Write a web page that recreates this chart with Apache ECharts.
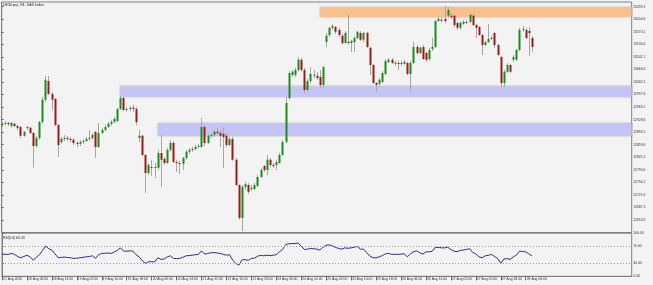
<!DOCTYPE html>
<html><head><meta charset="utf-8">
<script src="https://cdn.jsdelivr.net/npm/echarts@6/dist/echarts.min.js"></script>
<style>html,body{margin:0;padding:0;background:#f3f3f3}#c{width:653px;height:285px}</style>
</head><body><div id="c"></div><script>
const chartTitle = 'DE30.pro, H1: DAX Index';
const rsiTitle = 'RSI(14) 60.24';
const xLabels = ['17 Aug 2020','18 Aug 06:00','18 Aug 14:00','19 Aug 02:00','19 Aug 10:00','19 Aug 18:00','20 Aug 06:00','20 Aug 14:00','21 Aug 02:00','21 Aug 10:00','21 Aug 18:00','24 Aug 06:00','24 Aug 14:00','25 Aug 02:00','25 Aug 10:00','25 Aug 18:00','26 Aug 06:00','26 Aug 14:00','27 Aug 02:00','27 Aug 10:00','27 Aug 18:00','28 Aug 06:00'];
const priceTicks = {min: 12618.1, max: 13252, step: 34.5};
const rsiTicks = [0, 30, 70, 100];
const rsiLevels = [30, 70];
const slotCount = 203;

const openV = [12914,12917,12919,12911,12917,12911,12908,12884,12906,12906,
12892,12856,12878,12922,12983,13035,12999,12985,12914,12867,
12875,12878,12875,12873,12864,12862,12867,12870,12875,12878,
12895,12853,12892,12900,12908,12917,12922,12925,12958,12988,
12955,12958,12961,12958,12878,12884,12831,12782,12798,12796,
12796,12837,12820,12809,12845,12864,12812,12809,12807,12823,
12840,12845,12848,12853,12853,12908,12864,12884,12886,12895,
12892,12889,12884,12859,12875,12818,12749,12658,12743,12749,
12738,12738,12746,12771,12801,12790,12818,12804,12804,12809,
12831,12867,12988,13051,13051,13065,13093,13065,13010,13035,
13051,13049,13046,13024,13142,13161,13181,13183,13175,13159,
13139,13142,13139,13142,13153,13167,13148,13167,13126,13079,
13029,13027,13032,13054,13087,13093,13084,13084,13082,13082,
13084,13054,13084,13128,13112,13128,13112,13095,13123,13128,
13200,13203,13205,13214,13214,13214,13194,13181,13192,13197,
13197,13214,13189,13183,13161,13134,13142,13150,13167,13134,
13101,13029,13060,13079,13093,13093,13120,13175,13175,13172,13153];
const closeV = [12917,12919,12917,12919,12911,12906,12884,12895,12908,12892,
12856,12878,12922,12983,13038,12999,12983,12914,12859,12875,
12878,12875,12873,12864,12862,12867,12870,12875,12878,12886,
12853,12892,12900,12908,12917,12922,12930,12958,12988,12955,
12958,12961,12958,12922,12884,12831,12782,12804,12796,12798,
12837,12818,12809,12845,12864,12812,12809,12807,12823,12840,
12845,12848,12853,12856,12908,12864,12884,12886,12895,12892,
12884,12881,12859,12875,12818,12749,12658,12743,12751,12730,
12741,12749,12771,12790,12790,12818,12804,12801,12812,12831,
12867,12974,13057,13060,13065,13093,13065,13010,13035,13054,
13052,13043,13024,13073,13159,13181,13186,13170,13161,13139,
13167,13139,13145,13153,13170,13148,13167,13128,13079,13029,
13024,13038,13057,13090,13093,13084,13085,13082,13084,13087,
13054,13084,13128,13112,13126,13095,13093,13120,13128,13200,
13205,13202,13200,13230,13211,13189,13181,13194,13197,13194,
13216,13189,13181,13161,13134,13142,13150,13153,13134,13106,
13029,13060,13079,13060,13101,13120,13175,13178,13153,13167,13128];
const lowV = [12908,12914,12911,12906,12908,12900,12878,12881,12900,12889,
12796,12851,12873,12917,12977,12996,12955,12911,12826,12862,
12870,12870,12867,12859,12853,12856,12862,12867,12870,12873,
12823,12851,12889,12897,12906,12911,12919,12922,12955,12952,
12950,12952,12950,12914,12867,12829,12727,12776,12774,12768,
12790,12743,12804,12807,12840,12809,12785,12779,12790,12818,
12834,12840,12845,12851,12851,12856,12862,12878,12881,12886,
12853,12796,12853,12856,12815,12746,12653,12622,12735,12724,
12732,12735,12743,12768,12785,12776,12798,12796,12790,12807,
12829,12864,12983,13046,13046,13060,13060,13002,13007,13029,
13043,13038,13016,13016,13128,13156,13175,13164,13156,13134,
13137,13134,13115,13115,13150,13145,13142,13126,13051,13027,
13005,13021,13029,13051,13084,13082,13076,13065,13076,13079,
13051,13005,13082,13106,13109,13093,13087,13090,13117,13126,
13197,13197,13194,13208,13205,13183,13175,13175,13189,13192,
13194,13186,13153,13159,13106,13131,13139,13148,13126,13104,
13018,13018,13057,13057,13087,13090,13117,13170,13150,13104,13115];
const highV = [12922,12925,12922,12922,12919,12914,12911,12897,12911,12908,
12895,12884,12925,12991,13049,13049,13005,12988,12917,12881,
12886,12884,12881,12878,12870,12873,12875,12881,12900,12892,
12897,12919,12906,12914,12922,12928,12936,12961,12994,12991,
12963,12966,12969,12963,12900,12886,12834,12809,12818,12809,
12845,12886,12826,12851,12873,12870,12818,12815,12826,12845,
12851,12853,12859,12862,12933,12914,12889,12892,12900,12906,
12900,12908,12892,12881,12881,12823,12751,12749,12757,12754,
12749,12754,12776,12796,12804,12831,12823,12809,12818,12837,
12873,12991,13062,13065,13071,13101,13098,13071,13040,13073,
13065,13060,13065,13076,13167,13183,13192,13186,13181,13164,
13172,13219,13148,13159,13172,13172,13170,13170,13128,13082,
13032,13043,13062,13095,13098,13098,13090,13090,13090,13093,
13087,13090,13142,13134,13131,13134,13115,13126,13153,13203,
13211,13208,13241,13238,13222,13216,13197,13200,13203,13203,
13222,13219,13192,13186,13164,13145,13192,13159,13170,13137,
13104,13065,13084,13082,13106,13123,13181,13186,13181,13183,13159];
const rsiV = [51.5,51,50.8,53,51,46,43,46,49,45,
37.6,44,50,60,70,64,60.7,52,43,44,
44.5,43.8,43,41.5,42,43,44,45.2,46,47.5,
41.5,50,53,53.5,54,53,56.8,60,66,58.4,
58.4,59,58.4,50,45,36,30,33.7,33.7,33.5,
43,39.2,40,45,47.5,41.5,41,41.5,44,47.5,
48,49,50,50.8,59,51.5,53,54.5,55,54,
53,51,49,50,37.6,30,26,38.3,38.5,37,
41.5,42,46.8,48.5,47.5,49,48,49,50,56.8,
62,73.8,75.5,76,76,77,70,62.3,63,64.6,
64,63,60.7,68,72.2,73,70.6,67,64.6,63,
66,65,66,67.6,69,63,63,55,47,43,
43,45,48,52.2,53,50.8,51,50.8,51.5,52.2,
45.2,52,56.8,59,55,51.5,56.8,56.8,58,66.9,
67,66,66,67.6,62,58.4,57,60,61,62.3,
64,55.4,52,45.2,43,47.5,48.5,50.8,46,41.5,
30,40,41,39.2,45,49,58.4,57.5,56.8,52,47.5];
// zones: start bar index, top price, bottom price
const zoneStart = [102, 38, 50];
const zoneTop = [13238, 13019.8, 12918.4];
const zoneBottom = [13211, 12990.9, 12884.3];
const zoneColors = ['#f9c08b', '#c4c4f6', '#c4c4f6'];

const FONT = 'Liberation Sans';
const FS = 3.4;
const UP = '#1d8b1d', DOWN = '#9b1c1c', WICK = '#a6a6a6';

const candles = openV.map((o, i) => [i, o, closeV[i], lowV[i], highV[i]]);
const xTickVals = xLabels.map((_, k) => k * 8);

function renderCandle(params, api) {
  const i = api.value(0), o = api.value(1), c = api.value(2), l = api.value(3), h = api.value(4);
  const pO = api.coord([i, o]), pC = api.coord([i, c]);
  const pL = api.coord([i, l]), pH = api.coord([i, h]);
  const x = Math.round(pO[0]);
  const top = Math.min(pO[1], pC[1]), bot = Math.max(pO[1], pC[1]);
  return {type: 'group', children: [
    {type: 'line', shape: {x1: x + 0.5, y1: pH[1], x2: x + 0.5, y2: pL[1]}, style: {stroke: WICK, lineWidth: 1}},
    {type: 'rect', shape: {x: x - 0.5, y: top, width: 2, height: Math.max(bot - top, 1)}, style: {fill: c >= o ? UP : DOWN}}
  ]};
}

const chart = echarts.init(document.getElementById('c'), null, {renderer: 'canvas'});
chart.setOption({
  backgroundColor: '#f3f3f3',
  animation: false,
  title: [
    {text: chartTitle, left: 3, top: 2.5, padding: 0, textStyle: {fontSize: 3.6, fontWeight: 'normal', color: '#222', fontFamily: FONT}},
    {text: rsiTitle, left: 3, top: 236, padding: 0, textStyle: {fontSize: 3.5, fontWeight: 'normal', color: '#222', fontFamily: FONT}}
  ],
  grid: [
    {left: 1.7, right: 21.3, top: 2, bottom: 52.5, show: true, borderColor: '#808080', borderWidth: 1, backgroundColor: 'transparent'},
    {left: 1.7, right: 21.3, top: 233.2, bottom: 8.7, show: true, borderColor: '#808080', borderWidth: 1, backgroundColor: 'transparent'}
  ],
  xAxis: [
    {type: 'value', gridIndex: 0, min: 0, max: slotCount - 1, interval: 8, axisLine: {show: false}, axisTick: {show: false}, axisLabel: {show: false}, splitLine: {show: false}},
    {type: 'value', gridIndex: 1, min: 0, max: slotCount - 1, interval: 8,
      axisLine: {show: true, lineStyle: {color: '#808080'}},
      axisTick: {show: true, length: 4, lineStyle: {color: '#666'}, customValues: xTickVals},
      axisLabel: {show: true, customValues: xTickVals, fontSize: FS, color: '#333', fontFamily: FONT, align: 'left', margin: 1.5, padding: [0, 0, 0, 1],
        formatter: v => xLabels[Math.round(v / 8)] || ''},
      splitLine: {show: false}}
  ],
  yAxis: [
    {type: 'value', gridIndex: 0, position: 'right', min: priceTicks.min, max: priceTicks.max, interval: priceTicks.step,
      axisLine: {show: true, lineStyle: {color: '#808080'}},
      axisTick: {show: true, length: 2, lineStyle: {color: '#666'}},
      axisLabel: {fontSize: FS, color: '#333', fontFamily: FONT, margin: 1.5, showMaxLabel: false, showMinLabel: false, formatter: v => v.toFixed(1)},
      splitLine: {show: false}},
    {type: 'value', gridIndex: 1, position: 'right', min: 0, max: 100,
      axisLine: {show: true, lineStyle: {color: '#808080'}},
      axisTick: {show: true, length: 2, lineStyle: {color: '#666'}, customValues: rsiTicks},
      axisLabel: {fontSize: FS, color: '#333', fontFamily: FONT, margin: 1.5, customValues: rsiTicks, formatter: v => v.toFixed(2)},
      splitLine: {show: false}}
  ],
  series: [
    {type: 'custom', xAxisIndex: 0, yAxisIndex: 0, renderItem: renderCandle, data: candles, clip: true,
      encode: {x: 0, y: [1, 2, 3, 4]},
      markArea: {silent: true, z: 1, data: zoneStart.map((s, k) => [
        {xAxis: s, yAxis: zoneTop[k], itemStyle: {color: zoneColors[k], shadowBlur: 2, shadowColor: 'rgba(0,0,0,0.25)'}},
        {xAxis: slotCount - 1, yAxis: zoneBottom[k]}
      ])}},
    {type: 'line', xAxisIndex: 1, yAxisIndex: 1, data: rsiV.map((v, i) => [i, v]), symbol: 'none',
      lineStyle: {color: '#2e2e8e', width: 1}, z: 3,
      markLine: {silent: true, symbol: 'none', label: {show: false},
        lineStyle: {color: '#9a9a9a', type: [1, 2], width: 1},
        data: rsiLevels.map(v => ({yAxis: v}))}}
  ]
});
</script></body></html>
